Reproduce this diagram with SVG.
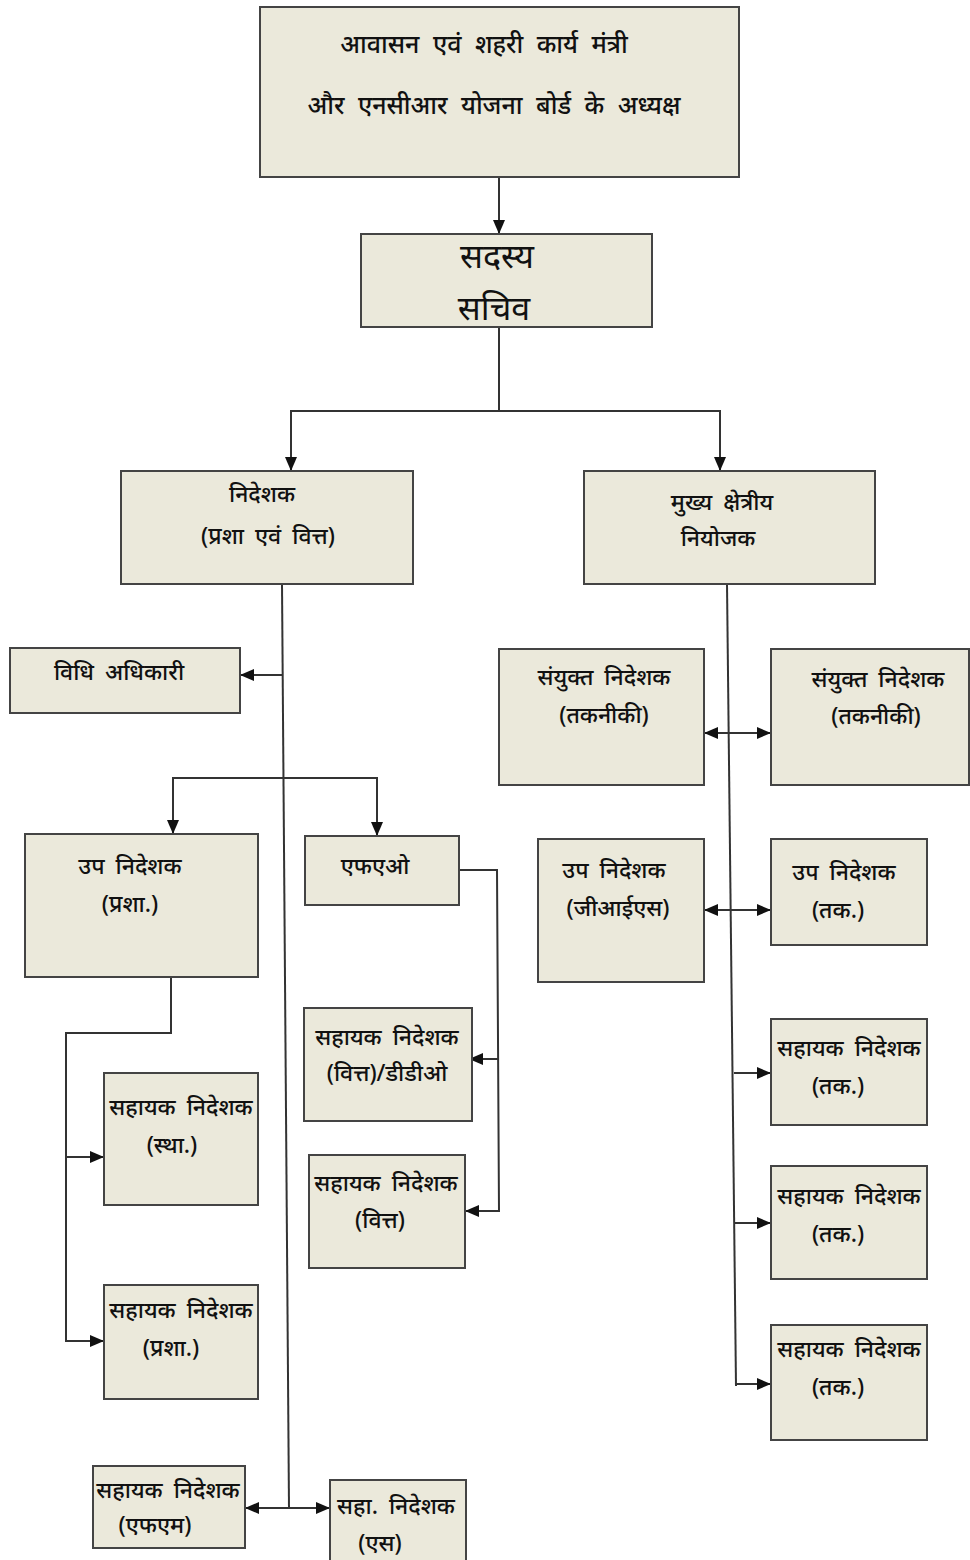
<svg xmlns="http://www.w3.org/2000/svg" width="970" height="1560" viewBox="0 0 970 1560">
<defs>
<style>
.box{fill:#ebe9db;stroke:#444;stroke-width:2}
.t{font-family:"Noto Sans","Noto Sans Devanagari",sans-serif;font-size:23px;font-weight:500;fill:#111;text-anchor:middle;word-spacing:5px}
.big{font-size:34px;font-weight:400}
.top{font-size:25px;word-spacing:7px}
.c{fill:none;stroke:#333;stroke-width:2}
</style>
<marker id="ah" viewBox="0 0 14 12" refX="14" refY="6" markerWidth="14" markerHeight="12" markerUnits="userSpaceOnUse" orient="auto-start-reverse">
<path d="M0,0 L14,6 L0,12 Z" fill="#111"/>
</marker>
</defs>
<rect width="970" height="1560" fill="#fff"/>
<g id="connectors">
<path class="c" d="M499,177 V234" marker-end="url(#ah)"/>
<path class="c" d="M499,327 V411 H291 V471" marker-end="url(#ah)"/>
<path class="c" d="M499,411 H720 V471" marker-end="url(#ah)"/>
<path class="c" d="M282,584 L289,1508"/>
<path class="c" d="M282,675 H240" marker-end="url(#ah)"/>
<path class="c" d="M283,778 H173 V834" marker-end="url(#ah)"/>
<path class="c" d="M283,778 H377 V836" marker-end="url(#ah)"/>
<path class="c" d="M459,870 H497 L499,1211 H465" marker-end="url(#ah)"/>
<path class="c" d="M498,1059 H469" marker-end="url(#ah)"/>
<path class="c" d="M171,977 V1033 H66 V1341 H104" marker-end="url(#ah)"/>
<path class="c" d="M66,1157 H104" marker-end="url(#ah)"/>
<path class="c" d="M245,1508 H330" marker-start="url(#ah)" marker-end="url(#ah)"/>
<path class="c" d="M727,584 L736,1386"/>
<path class="c" d="M704,733 H771" marker-start="url(#ah)" marker-end="url(#ah)"/>
<path class="c" d="M704,910 H771" marker-start="url(#ah)" marker-end="url(#ah)"/>
<path class="c" d="M734,1073 H771" marker-end="url(#ah)"/>
<path class="c" d="M735,1223 H771" marker-end="url(#ah)"/>
<path class="c" d="M736,1384 H771" marker-end="url(#ah)"/>
</g>
<g id="n-minister">
<rect class="box" x="260" y="7" width="479" height="170"/>
<text class="t top" x="484" y="53">आवासन एवं शहरी कार्य मंत्री</text>
<text class="t top" x="494" y="114">और एनसीआर योजना बोर्ड के अध्यक्ष</text>
</g>
<g id="n-member-secretary">
<rect class="box" x="361" y="234" width="291" height="93"/>
<text class="t big" x="497" y="268">सदस्य</text>
<text class="t big" x="494" y="320">सचिव</text>
</g>
<g id="n-director">
<rect class="box" x="121" y="471" width="292" height="113"/>
<text class="t" x="262" y="502">निदेशक</text>
<text class="t" x="268" y="544">(प्रशा एवं वित्त)</text>
</g>
<g id="n-chief-planner">
<rect class="box" x="584" y="471" width="291" height="113"/>
<text class="t" x="722" y="510">मुख्य क्षेत्रीय</text>
<text class="t" x="718" y="546">नियोजक</text>
</g>
<g id="n-law-officer">
<rect class="box" x="10" y="648" width="230" height="65"/>
<text class="t" x="119" y="680">विधि अधिकारी</text>
</g>
<g id="n-dd-admin">
<rect class="box" x="25" y="834" width="233" height="143"/>
<text class="t" x="130" y="874">उप निदेशक</text>
<text class="t" x="130" y="912">(प्रशा.)</text>
</g>
<g id="n-fao">
<rect class="box" x="305" y="836" width="154" height="69"/>
<text class="t" x="375" y="874">एफएओ</text>
</g>
<g id="n-ad-fin-ddo">
<rect class="box" x="304" y="1008" width="168" height="113"/>
<text class="t" x="387" y="1045">सहायक निदेशक</text>
<text class="t" x="387" y="1081">(वित्त)/डीडीओ</text>
</g>
<g id="n-ad-fin">
<rect class="box" x="309" y="1155" width="156" height="113"/>
<text class="t" x="386" y="1191">सहायक निदेशक</text>
<text class="t" x="380" y="1228">(वित्त)</text>
</g>
<g id="n-ad-est">
<rect class="box" x="104" y="1073" width="154" height="132"/>
<text class="t" x="181" y="1115">सहायक निदेशक</text>
<text class="t" x="172" y="1153">(स्था.)</text>
</g>
<g id="n-ad-admin">
<rect class="box" x="104" y="1285" width="154" height="114"/>
<text class="t" x="181" y="1318">सहायक निदेशक</text>
<text class="t" x="171" y="1356">(प्रशा.)</text>
</g>
<g id="n-ad-fm">
<rect class="box" x="93" y="1466" width="152" height="82"/>
<text class="t" x="168" y="1498">सहायक निदेशक</text>
<text class="t" x="155" y="1533">(एफएम)</text>
</g>
<g id="n-ad-s">
<rect class="box" x="330" y="1480" width="136" height="82"/>
<text class="t" x="396" y="1514">सहा. निदेशक</text>
<text class="t" x="380" y="1551">(एस)</text>
</g>
<g id="n-jd-tech-1">
<rect class="box" x="499" y="649" width="205" height="136"/>
<text class="t" x="604" y="685">संयुक्त निदेशक</text>
<text class="t" x="604" y="723">(तकनीकी)</text>
</g>
<g id="n-jd-tech-2">
<rect class="box" x="771" y="649" width="198" height="136"/>
<text class="t" x="878" y="687">संयुक्त निदेशक</text>
<text class="t" x="876" y="724">(तकनीकी)</text>
</g>
<g id="n-dd-gis">
<rect class="box" x="538" y="839" width="166" height="143"/>
<text class="t" x="614" y="878">उप निदेशक</text>
<text class="t" x="618" y="916">(जीआईएस)</text>
</g>
<g id="n-dd-tech">
<rect class="box" x="771" y="839" width="156" height="106"/>
<text class="t" x="844" y="880">उप निदेशक</text>
<text class="t" x="838" y="918">(तक.)</text>
</g>
<g id="n-ad-tech-1">
<rect class="box" x="771" y="1019" width="156" height="106"/>
<text class="t" x="849" y="1056">सहायक निदेशक</text>
<text class="t" x="838" y="1094">(तक.)</text>
</g>
<g id="n-ad-tech-2">
<rect class="box" x="771" y="1166" width="156" height="113"/>
<text class="t" x="849" y="1204">सहायक निदेशक</text>
<text class="t" x="838" y="1242">(तक.)</text>
</g>
<g id="n-ad-tech-3">
<rect class="box" x="771" y="1325" width="156" height="115"/>
<text class="t" x="849" y="1357">सहायक निदेशक</text>
<text class="t" x="838" y="1395">(तक.)</text>
</g>
</svg>
